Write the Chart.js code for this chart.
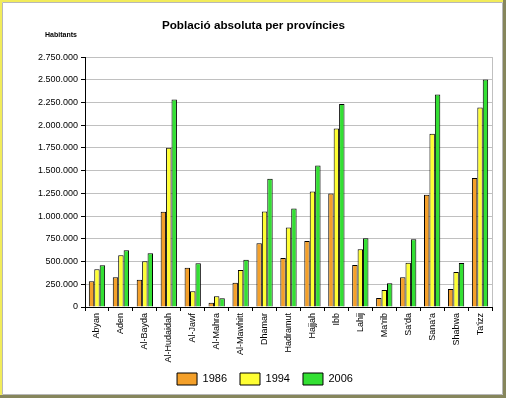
<!DOCTYPE html>
<html>
<head>
<meta charset="utf-8">
<script src="https://cdn.jsdelivr.net/npm/chart.js@4.4.0/dist/chart.umd.min.js"></script>
<style>
html,body{margin:0;padding:0;background:#fff;}
#wrap{position:relative;width:506px;height:398px;}
canvas{display:block;}
</style>
</head>
<body>
<div id="wrap"><canvas id="c" width="506" height="398"></canvas></div>
<script>
const categories = ["Abyan","Aden","Al-Bayda","Al-Hudaidah","Al-Jawf","Al-Mahra","Al-Mawhitt","Dhamar","Hadramut","Hajjah","Ibb","Lahij","Ma'rib","Sa'da","Sana'a","Shabwa","Ta'izz"];
const pop1986 = [282000,326000,300000,1048000,433000,48000,268000,700000,539000,726000,1250000,462000,99000,326000,1235000,198000,1419000];
const pop1994 = [414000,568000,502000,1752000,172000,117000,407000,1052000,876000,1272000,1965000,634000,187000,488000,1906000,385000,2196000];
const pop2006 = [458000,623000,590000,2284000,480000,95000,520000,1411000,1085000,1558000,2232000,755000,260000,744000,2339000,484000,2504000];
const seriesLabels = ["1986","1994","2006"];
const yTickValues = [0,250000,500000,750000,1000000,1250000,1500000,1750000,2000000,2250000,2500000,2750000];
const titleText = "Població absoluta per províncies";
const yUnitText = "Habitants";

function fmt(v){ return String(v).replace(/\B(?=(\d{3})+(?!\d))/g, "."); }

const framePlugin = {
  id: 'frame',
  afterLayout(chart){
    if (chart.titleBlock) { chart.titleBlock.left -= 11.5; chart.titleBlock.right -= 11.5; }
    if (chart.scales.x) { chart.scales.x.bottom += 10; }
  },
  beforeDraw(chart){
    const ctx = chart.ctx;
    ctx.save();
    ctx.fillStyle = '#ffffff';
    ctx.fillRect(0,0,chart.width,chart.height);
    ctx.restore();
  },
  afterDraw(chart){
    const ctx = chart.ctx, W = chart.width, H = chart.height, a = chart.chartArea;
    ctx.save();
    ctx.strokeStyle = '#c0c0c0'; ctx.lineWidth = 1;
    ctx.beginPath(); ctx.moveTo(a.right+0.5, a.top); ctx.lineTo(a.right+0.5, a.bottom); ctx.stroke();
    ctx.fillStyle = '#f2ec5a';
    ctx.fillRect(0,0,W,2); ctx.fillRect(0,0,2,H);
    ctx.fillStyle = '#86865c';
    ctx.fillRect(W-3,0,3,H); ctx.fillRect(0,H-3,W,3);
    ctx.strokeStyle = '#b8b8b8';
    ctx.beginPath(); ctx.moveTo(2.5,2.5); ctx.lineTo(W-3.5,2.5); ctx.lineTo(W-3.5,H-3.5); ctx.lineTo(2.5,H-3.5); ctx.closePath(); ctx.stroke();
    ctx.fillStyle = '#000';
    ctx.font = 'bold 7px "Liberation Sans", Arial, sans-serif';
    ctx.textBaseline = 'middle'; ctx.textAlign = 'left';
    ctx.fillText(yUnitText, 45, 35);
    ctx.restore();
  }
};

new Chart(document.getElementById('c'), {
  type: 'bar',
  data: {
    labels: categories,
    datasets: [
      {label: seriesLabels[0], data: pop1986, backgroundColor: '#f4a02a', borderColor: '#000', borderWidth: 1},
      {label: seriesLabels[1], data: pop1994, backgroundColor: '#ffff33', borderColor: '#000', borderWidth: 1},
      {label: seriesLabels[2], data: pop2006, backgroundColor: '#33e033', borderColor: '#000', borderWidth: 1}
    ]
  },
  plugins: [framePlugin],
  options: {
    responsive: false,
    animation: false,
    events: [],
    layout: {padding: {left: 38, right: 14, top: 0, bottom: 3}},
    datasets: {bar: {categoryPercentage: 0.68, barPercentage: 1.0}},
    plugins: {
      title: {
        display: true, text: titleText, color: '#000',
        font: {family: '"Liberation Sans", Arial, sans-serif', size: 11.7, weight: 'bold'},
        padding: {top: 19, bottom: 24}
      },
      legend: {
        display: true, position: 'bottom',
        labels: {
          boxWidth: 20, boxHeight: 12, padding: 13, color: '#000',
          font: {family: '"Liberation Sans", Arial, sans-serif', size: 11}
        }
      },
      tooltip: {enabled: false}
    },
    scales: {
      x: {
        offset: true,
        grid: {display: true, drawOnChartArea: false, drawTicks: true, tickLength: 4, tickColor: '#000', offset: true},
        border: {display: true, color: '#000', width: 1},
        ticks: {
          minRotation: 90, maxRotation: 90, autoSkip: false, padding: 2, color: '#000',
          font: {family: '"Liberation Sans", Arial, sans-serif', size: 9}
        },
        afterFit(s){ s.height = 53; }
      },
      y: {
        min: 0, max: yTickValues[yTickValues.length-1],
        afterBuildTicks(s){ s.ticks = yTickValues.map(v => ({value: v})); },
        grid: {color: '#c0c0c0', tickColor: '#000', tickLength: 4},
        border: {display: true, color: '#000', width: 1},
        ticks: {
          padding: 3, color: '#000',
          font: {family: '"Liberation Sans", Arial, sans-serif', size: 9},
          callback: v => fmt(v)
        },
        afterFit(s){ s.width = 47; }
      }
    }
  }
});
</script>
</body>
</html>
